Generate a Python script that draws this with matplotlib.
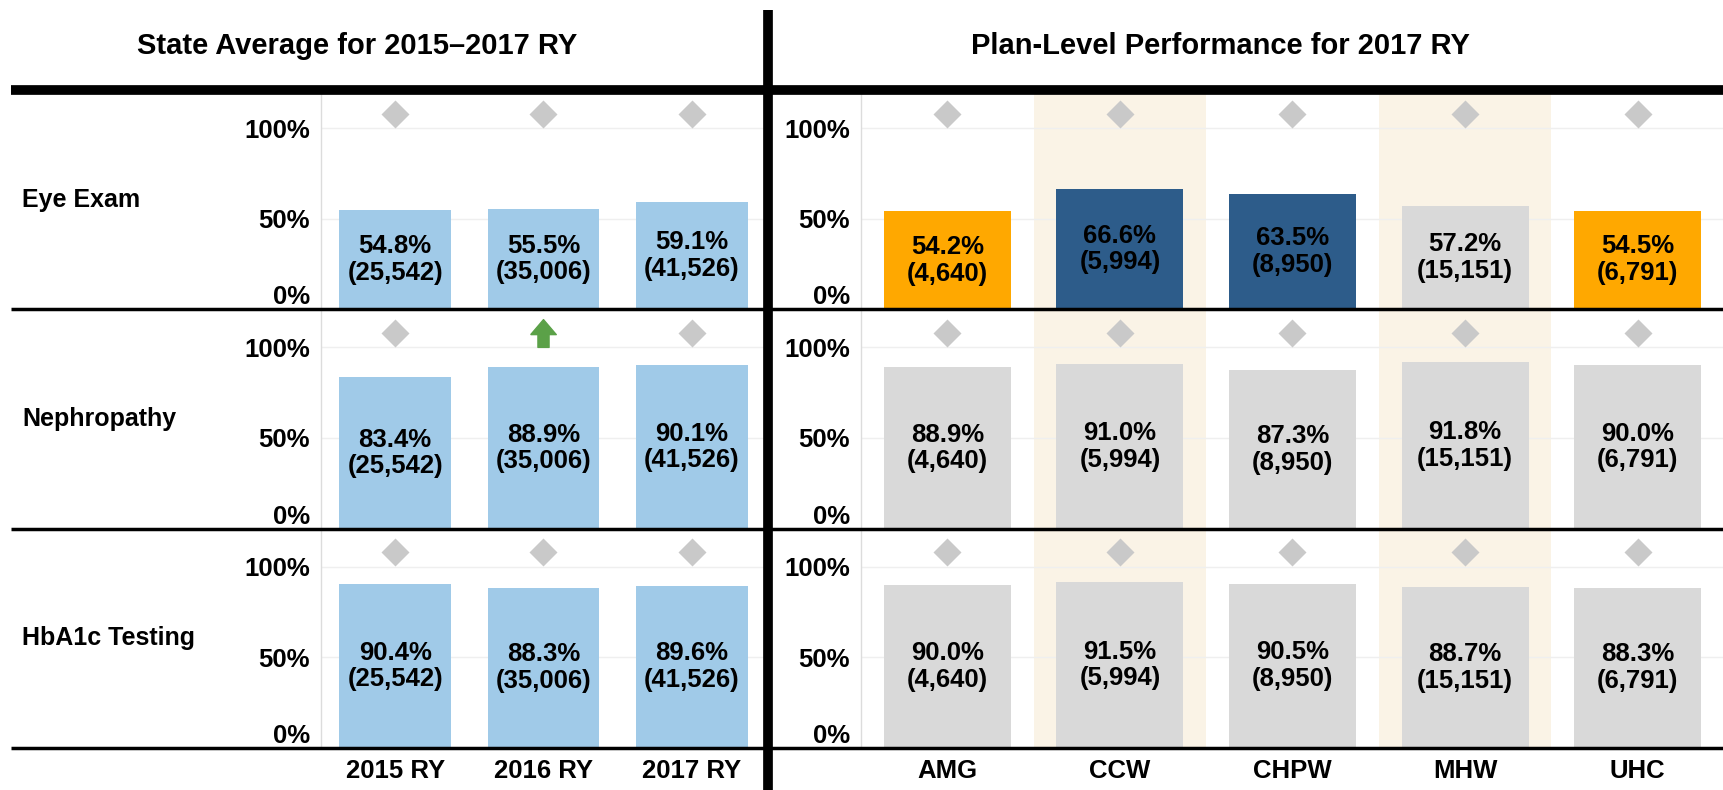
import matplotlib
matplotlib.use('Agg')
import matplotlib.pyplot as plt
from matplotlib.lines import Line2D

plt.rcParams['font.family'] = ['Liberation Sans', 'DejaVu Sans']
plt.rcParams['font.weight'] = 'bold'

# ---- data ----
measures = ['Eye Exam', 'Nephropathy', 'HbA1c Testing']
years = ['2015 RY', '2016 RY', '2017 RY']
plans = ['AMG', 'CCW', 'CHPW', 'MHW', 'UHC']

state_eye = [54.8, 55.5, 59.1]
state_neph = [83.4, 88.9, 90.1]
state_hba1c = [90.4, 88.3, 89.6]
state_denoms = [25542, 35006, 41526]
# 1 = significant increase over prior year (green arrow), 0 = no change (diamond)
state_trend = [[0, 0, 0], [0, 1, 0], [0, 0, 0]]

plan_eye = [54.2, 66.6, 63.5, 57.2, 54.5]
plan_neph = [88.9, 91.0, 87.3, 91.8, 90.0]
plan_hba1c = [90.0, 91.5, 90.5, 88.7, 88.3]
plan_denoms = [4640, 5994, 8950, 15151, 6791]
# -1 below state average, 0 not different, 1 above
plan_flags = [[-1, 1, 1, 0, -1], [0, 0, 0, 0, 0], [0, 0, 0, 0, 0]]

state_rates = [state_eye, state_neph, state_hba1c]
plan_rates = [plan_eye, plan_neph, plan_hba1c]

light_blue = '#A0CAE8'
flag_colors = {-1: '#FFA800', 0: '#D9D9D9', 1: '#2D5C8A'}
diamond_c = '#C9C9C9'
arrow_c = '#5BA148'
band_c = '#FAF3E6'

W, H = 1724, 790
fig = plt.figure(figsize=(W / 100, H / 100), dpi=100)

top_px = 90
row_h = 219.3
left_x0, left_x1 = 321, 766
right_x0, right_x1 = 861, 1724
ymax = 121

# arrow marker (up arrow)
up_arrow = [(-0.46, -0.04), (0, 0.5), (0.46, -0.04), (0.2, -0.04), (0.2, -0.5),
            (-0.2, -0.5), (-0.2, -0.04), (-0.46, -0.04)]


def style_axes(ax, n, show_x, labels):
    ax.set_xlim(-0.5, n - 0.5)
    ax.set_ylim(0, ymax)
    ax.set_yticks([0, 50, 100])
    ax.set_yticklabels(['0%', '50%', '100%'], fontsize=18.5, fontweight='bold')
    ax.yaxis.get_ticklabels()[0].set_verticalalignment('bottom')
    ax.tick_params(axis='y', length=0, pad=8)
    ax.yaxis.grid(True, color='#EFEFEF', lw=1)
    ax.set_axisbelow(True)
    for s in ['top', 'right', 'bottom']:
        ax.spines[s].set_visible(False)
    ax.spines['left'].set_color('#DCDCDC')
    ax.spines['left'].set_linewidth(1)
    ax.set_xticks(range(n))
    if show_x:
        ax.set_xticklabels(labels, fontsize=18.5, fontweight='bold')
        ax.tick_params(axis='x', length=0, pad=8)
    else:
        ax.set_xticklabels([])
        ax.tick_params(axis='x', length=0)
    ax.patch.set_alpha(0)


for r in range(3):
    y_bot = top_px + (r + 1) * row_h
    yb = 1 - y_bot / H
    hh = row_h / H

    # left panel: state average by year
    axl = fig.add_axes([left_x0 / W, yb, (left_x1 - left_x0) / W, hh])
    xs = range(len(years))
    axl.bar(xs, state_rates[r], width=0.755, color=light_blue, zorder=2)
    for i, v in enumerate(state_rates[r]):
        axl.text(i, v / 2, f'{v:.1f}%\n({state_denoms[i]:,})', ha='center', va='center',
                 fontsize=18.5, fontweight='bold', linespacing=1.15, zorder=3)
        if state_trend[r][i] == 1:
            axl.plot(i, 108, marker=up_arrow, ms=20, color=arrow_c, mec=arrow_c, ls='none', zorder=3)
        else:
            axl.plot(i, 108, marker='D', ms=14.5, color=diamond_c, mec='none', ls='none', zorder=3)
    style_axes(axl, len(years), r == 2, years)

    # right panel: plan level
    axr = fig.add_axes([right_x0 / W, yb, (right_x1 - right_x0) / W, hh])
    for b in (1, 3):
        axr.axvspan(b - 0.5, b + 0.5, color=band_c, lw=0, zorder=0)
    cols = [flag_colors[f] for f in plan_flags[r]]
    axr.bar(range(len(plans)), plan_rates[r], width=0.735, color=cols, zorder=2)
    for i, v in enumerate(plan_rates[r]):
        axr.text(i, v / 2, f'{v:.1f}%\n({plan_denoms[i]:,})', ha='center', va='center',
                 fontsize=18.5, fontweight='bold', linespacing=1.15, zorder=3)
        axr.plot(i, 108, marker='D', ms=14.5, color=diamond_c, mec='none', ls='none', zorder=3)
    style_axes(axr, len(plans), r == 2, plans)

    # row label
    fig.text(22 / W, 1 - (y_bot - row_h / 2) / H, measures[r], ha='left', va='center',
             fontsize=18, fontweight='bold')

# titles
fig.text(357 / W, 1 - 46 / H, 'State Average for 2015\u20132017 RY', ha='center', va='center',
         fontsize=21, fontweight='bold')
fig.text(1220 / W, 1 - 46 / H, 'Plan-Level Performance for 2017 RY', ha='center', va='center',
         fontsize=21, fontweight='bold')

# frame lines
fig.add_artist(Line2D([11 / W, 1], [1 - top_px / H] * 2, color='black', lw=7,
                      transform=fig.transFigure, solid_capstyle='butt'))
for r in range(3):
    yy = 1 - (top_px + (r + 1) * row_h) / H
    fig.add_artist(Line2D([11 / W, 1], [yy, yy], color='black', lw=2.5,
                          transform=fig.transFigure, solid_capstyle='butt'))
fig.add_artist(Line2D([768 / W, 768 / W], [1 - 10 / H, 0], color='black', lw=7,
                      transform=fig.transFigure, solid_capstyle='butt'))

fig.savefig('out.png', dpi=100, facecolor='white')
